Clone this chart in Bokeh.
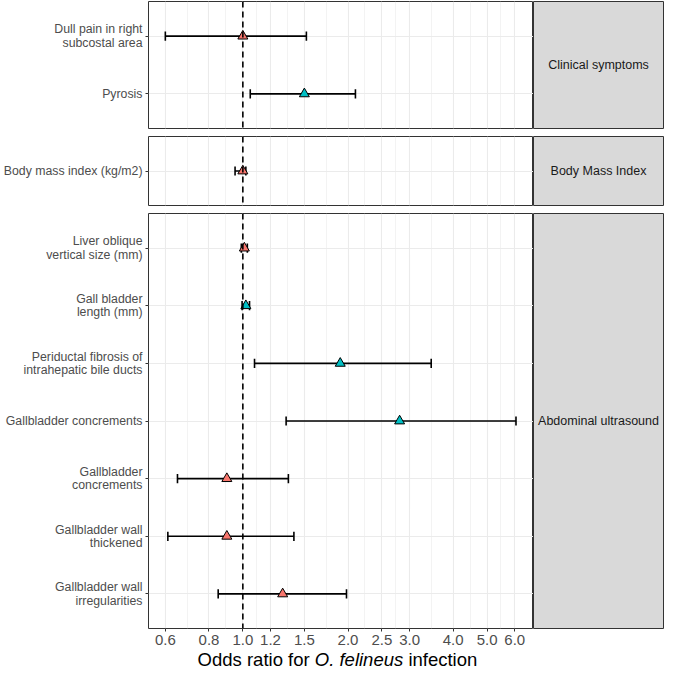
import math
from bokeh.plotting import figure
from bokeh.models import (Range1d, FixedTicker, Span, ColumnDataSource, Grid)
from bokeh.layouts import gridplot, column
from bokeh.embed import file_html
from bokeh.resources import INLINE
from bokeh.core.properties import value

# ---------------- data ----------------
panel_names = ["Clinical symptoms", "Body Mass Index", "Abdominal ultrasound"]
variables = [
    "Dull pain in right\nsubcostal area",
    "Pyrosis",
    "Body mass index (kg/m2)",
    "Liver oblique\nvertical size (mm)",
    "Gall bladder\nlength (mm)",
    "Periductal fibrosis of\nintrahepatic bile ducts",
    "Gallbladder concrements",
    "Gallbladder\nconcrements",
    "Gallbladder wall\nthickened",
    "Gallbladder wall\nirregularities",
]
variable_panel = ["Clinical symptoms", "Clinical symptoms", "Body Mass Index",
                  "Abdominal ultrasound", "Abdominal ultrasound", "Abdominal ultrasound",
                  "Abdominal ultrasound", "Abdominal ultrasound", "Abdominal ultrasound",
                  "Abdominal ultrasound"]
odds_ratio = [1.00, 1.50, 1.00, 1.01, 1.02, 1.90, 2.81, 0.90, 0.90, 1.30]
ci_lower   = [0.60, 1.05, 0.95, 0.99, 0.995, 1.08, 1.33, 0.65, 0.61, 0.85]
ci_upper   = [1.52, 2.10, 1.02, 1.03, 1.045, 3.46, 6.05, 1.35, 1.40, 1.98]
association = ["A", "B", "A", "A", "B", "B", "B", "A", "A", "A"]

x_ticks = [0.6, 0.8, 1.0, 1.2, 1.5, 2.0, 2.5, 3.0, 4.0, 5.0, 6.0]
x_tick_labels = ["0.6", "0.8", "1.0", "1.2", "1.5", "2.0", "2.5", "3.0", "4.0", "5.0", "6.0"]
x_limits = [0.537, 6.79]
reference_or = 1.0
x_title_parts = ["Odds ratio for", "O. felineus", "infection"]
x_title_styles = ["normal", "italic", "normal"]

# ---------------- style ----------------
FONT = "Liberation Sans"
group_colors = {"A": "#F8766D", "B": "#00BFC4"}
LEFT = 146
FRAME_W = 387
STRIP_W = 131
UNIT = 57.7
GAP = 8
BOTTOM = 21
TOP = 1
TITLE_H = 20
TITLE_FS = 18.5

minor_ticks = [math.sqrt(a * b) for a, b in zip(x_ticks[:-1], x_ticks[1:])]

rows = []
n_panels = len(panel_names)
for pi, pname in enumerate(panel_names):
    idx = [i for i, v in enumerate(variable_panel) if v == pname]
    n = len(idx)
    frame_h = int(round((n + 0.2) * UNIT))
    top = TOP if pi == 0 else 0
    bottom = BOTTOM if pi == n_panels - 1 else GAP
    height = frame_h + top + bottom
    is_last = pi == n_panels - 1

    ys = [n - k for k in range(n)]
    src = ColumnDataSource(dict(
        y=ys,
        odds=[odds_ratio[i] for i in idx],
        lo=[ci_lower[i] for i in idx],
        hi=[ci_upper[i] for i in idx],
        cap0=[y - 0.08 for y in ys],
        cap1=[y + 0.08 for y in ys],
        color=[group_colors[association[i]] for i in idx],
    ))

    p = figure(width=LEFT + FRAME_W, height=height, x_axis_type="log",
               x_range=Range1d(*x_limits), y_range=Range1d(0.4, n + 0.6),
               min_border_left=LEFT, min_border_right=0,
               min_border_top=top, min_border_bottom=bottom,
               x_axis_location="below" if is_last else None,
               output_backend="svg", toolbar_location=None)
    p.background_fill_color = "white"
    p.border_fill_color = "white"
    p.outline_line_color = "#333333"
    p.outline_line_width = 1

    xt = FixedTicker(ticks=x_ticks, minor_ticks=minor_ticks)
    if len(p.xgrid) == 0:
        p.add_layout(Grid(dimension=0, ticker=xt), "center")
    for g in p.xgrid:
        g.ticker = xt
        g.grid_line_color = "#EBEBEB"
        g.grid_line_width = 1.1
        g.minor_grid_line_color = "#EBEBEB"
        g.minor_grid_line_width = 0.6
    for g in p.ygrid:
        g.grid_line_color = "#EBEBEB"
        g.grid_line_width = 1.1
        g.ticker = FixedTicker(ticks=ys)

    if is_last:
        ax = p.xaxis[0]
        ax.ticker = xt
        ax.major_label_overrides = {t: l for t, l in zip(x_ticks, x_tick_labels)}
        ax.axis_line_color = None
        ax.major_tick_line_color = "#333333"
        ax.major_tick_out = 3
        ax.major_tick_in = 0
        ax.minor_tick_line_color = None
        ax.major_label_text_font = FONT
        ax.major_label_text_font_size = "15px"
        ax.major_label_text_color = "#4D4D4D"
        ax.major_label_standoff = 2

    ay = p.yaxis[0]
    ay.ticker = FixedTicker(ticks=ys)
    ay.major_label_overrides = {y: variables[i] for y, i in zip(ys, idx)}
    ay.axis_line_color = None
    ay.major_tick_line_color = "#333333"
    ay.major_tick_out = 3
    ay.major_tick_in = 0
    ay.minor_tick_line_color = None
    ay.major_label_text_font = FONT
    ay.major_label_text_font_size = "12.3px"
    ay.major_label_text_color = "#4D4D4D"
    ay.major_label_text_line_height = 0.95
    ay.major_label_standoff = 3

    p.segment(x0="lo", y0="y", x1="hi", y1="y", source=src, line_color="black", line_width=1.6)
    p.segment(x0="lo", y0="cap0", x1="lo", y1="cap1", source=src, line_color="black", line_width=1.6)
    p.segment(x0="hi", y0="cap0", x1="hi", y1="cap1", source=src, line_color="black", line_width=1.6)
    p.add_layout(Span(location=reference_or, dimension="height", line_color="black",
                      line_width=1.6, line_dash="6 4"))
    p.scatter(x="odds", y="y", source=src, marker="triangle", size=10,
              fill_color="color", line_color="black", line_width=1)

    s = figure(width=STRIP_W, height=height, x_range=Range1d(0, 1), y_range=Range1d(0, 1),
               min_border_left=0, min_border_right=1, min_border_top=top,
               min_border_bottom=bottom, x_axis_location=None, y_axis_location=None,
               output_backend="svg", toolbar_location=None)
    s.background_fill_color = "#D9D9D9"
    s.border_fill_color = "white"
    s.outline_line_color = "#333333"
    s.outline_line_width = 1
    s.xgrid.visible = False
    s.ygrid.visible = False
    s.text(x=[0.5], y=[0.5], text=[pname], text_align="center", text_baseline="middle",
           text_font=value(FONT), text_font_size="12.5px", text_color="#1A1A1A")

    rows.append([p, s])

grid = gridplot(rows, toolbar_location=None)

# ---- x-axis title with italic species name (own strip of canvas) ----
TOTAL_W = LEFT + FRAME_W + STRIP_W
t = figure(width=TOTAL_W, height=TITLE_H, x_range=Range1d(0, TOTAL_W),
           y_range=Range1d(0, TITLE_H), min_border=0,
           x_axis_location=None, y_axis_location=None,
           output_backend="svg", toolbar_location=None)
t.outline_line_color = None
t.xgrid.visible = False
t.ygrid.visible = False
# approximate em widths (Arial metrics) to place the pieces next to each other
em = [6.058, 4.78, 4.002]
space = 0.278
total = (sum(em) + 2 * space) * TITLE_FS
xpos = LEFT + FRAME_W / 2 - total / 2
for part, style, w in zip(x_title_parts, x_title_styles, em):
    t.text(x=[xpos], y=[TITLE_H / 2], text=[part], text_align="left",
           text_baseline="middle", text_font=value(FONT),
           text_font_size=f"{TITLE_FS}px", text_font_style=style, text_color="black")
    xpos += (w + space) * TITLE_FS

layout = column(grid, t)
open("out.html", "w").write(file_html(layout, INLINE))
